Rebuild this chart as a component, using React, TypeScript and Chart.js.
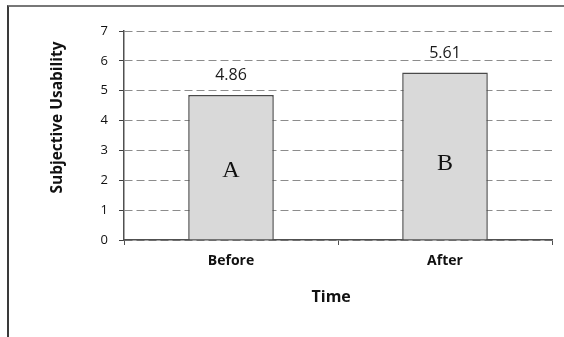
import React, { useEffect, useRef } from "react";
import { Chart, registerables } from "chart.js";

Chart.register(...registerables);

const categories = ["Before", "After"];
const values = [4.86, 5.61];
const valueLabels = ["4.86", "5.61"];
const letters = ["A", "B"];
const letterLevels = [2.33, 2.55];
const yTicks = [0, 1, 2, 3, 4, 5, 6, 7];
const yTitle = "Subjective Usability";
const xTitle = "Time";

const FONT = "'Open Sans', 'DejaVu Sans', sans-serif";

const annotate = {
  id: "annotate",
  afterDatasetsDraw(chart: any) {
    const ctx = chart.ctx;
    const meta = chart.getDatasetMeta(0);
    const y = chart.scales.y;
    ctx.save();
    ctx.textAlign = "center";
    ctx.textBaseline = "middle";
    meta.data.forEach((bar: any, i: number) => {
      ctx.fillStyle = "#1a1a1a";
      ctx.font = `16px ${FONT}`;
      ctx.fillText(valueLabels[i], bar.x, bar.y - 19);
      ctx.font = `24px 'Liberation Serif', 'DejaVu Serif', serif`;
      ctx.fillStyle = "#111";
      ctx.fillText(letters[i], bar.x, y.getPixelForValue(letterLevels[i]));
    });
    const area = chart.chartArea;
    ctx.fillStyle = "#111";
    ctx.font = `bold 16px ${FONT}`;
    ctx.fillText(xTitle, area.left + (area.right - area.left) * 0.484, 297);
    ctx.translate(57.5, 117.5);
    ctx.rotate(-Math.PI / 2);
    ctx.font = `bold 15.5px ${FONT}`;
    ctx.fillText(yTitle, 0, 0);
    ctx.restore();
  },
};

export default function App() {
  const ref = useRef<HTMLCanvasElement>(null);
  useEffect(() => {
    if (!ref.current) return;
    const chart = new Chart(ref.current, {
      type: "bar",
      data: {
        labels: categories,
        datasets: [
          {
            data: values,
            backgroundColor: "#d9d9d9",
            borderColor: "#4a4a4a",
            borderWidth: 1.5,
            barPercentage: 0.4,
            categoryPercentage: 1,
          },
        ],
      },
      options: {
        animation: false,
        responsive: false,
        devicePixelRatio: 1,
        layout: { padding: { top: 31, right: 12, left: 0, bottom: 0 } },
        plugins: { legend: { display: false }, tooltip: { enabled: false } },
        scales: {
          x: {
            afterFit(scale: any) {
              scale.height = 97;
            },
            grid: {
              display: true,
              drawOnChartArea: false,
              drawTicks: true,
              tickLength: 5,
              tickColor: "#505050",
              offset: true,
            },
            border: { display: true, color: "#505050", width: 1.5 },
            ticks: {
              color: "#111",
              padding: 8,
              font: { family: FONT, size: 14, weight: "bold" },
            },
          },
          y: {
            min: 0,
            max: 7,
            afterFit(scale: any) {
              scale.width = 124;
            },
            afterBuildTicks(scale: any) {
              scale.ticks = yTicks.map((v) => ({ value: v }));
            },
            grid: {
              color: "#8c8c8c",
              lineWidth: 1,
              drawTicks: true,
              tickLength: 5,
              tickColor: "#404040",
            },
            border: { display: true, color: "#505050", width: 1.5, dash: [8, 4] },
            ticks: {
              color: "#111",
              padding: 11,
              font: { family: FONT, size: 13 },
            },
          },
        },
      },
      plugins: [annotate],
    } as any);
    return () => chart.destroy();
  }, []);
  return (
    <div style={{ position: "absolute", left: 0, top: 0, width: 564, height: 337, background: "#fff" }}>
      <canvas ref={ref} width={564} height={337} style={{ position: "absolute", left: 0, top: 0 }} />
      <div
        style={{
          position: "absolute",
          left: 7,
          top: 5,
          width: 557,
          height: 332,
          borderTop: "2px solid #777",
          borderLeft: "2px solid #3a3a3a",
          boxSizing: "border-box",
          pointerEvents: "none",
        }}
      />
    </div>
  );
}
